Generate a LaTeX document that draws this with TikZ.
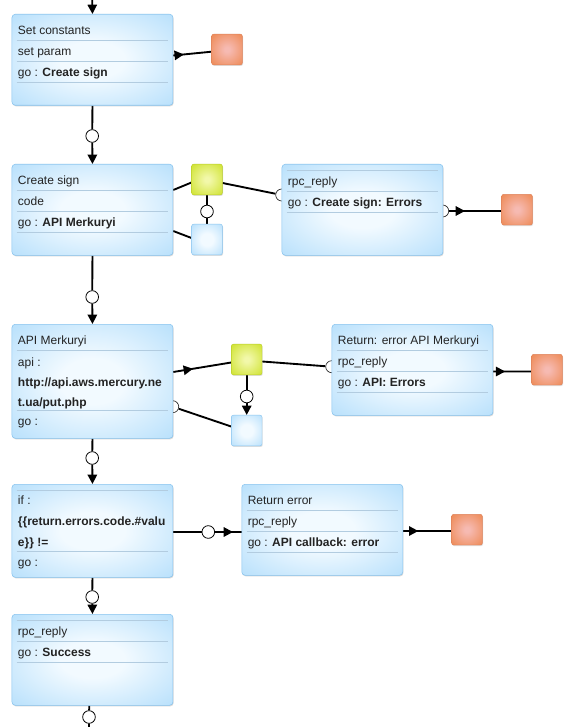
\documentclass[tikz,border=0pt]{standalone}
\usepackage{fontspec}
\setmainfont{Liberation Sans}
\usetikzlibrary{arrows.meta,shadows,decorations.markings,calc}

\definecolor{boxblue}{RGB}{152,210,250}
\definecolor{boxcenter}{RGB}{242,250,255}
\definecolor{boxedge}{RGB}{135,195,238}
\definecolor{sepc}{RGB}{178,204,224}
\definecolor{orOut}{RGB}{236,128,66}
\definecolor{orIn}{RGB}{246,186,178}
\definecolor{orEdge}{RGB}{222,130,90}
\definecolor{yeOut}{RGB}{200,222,22}
\definecolor{yeIn}{RGB}{242,248,170}
\definecolor{yeEdge}{RGB}{185,205,40}
\definecolor{txtc}{RGB}{35,35,35}

\pgfdeclareradialshading{boxsh}{\pgfpoint{0bp}{0bp}}{color(0bp)=(boxcenter); color(10bp)=(boxcenter); color(50bp)=(boxblue); color(72bp)=(boxblue)}
\pgfdeclareradialshading{orsh}{\pgfpoint{0bp}{0bp}}{color(0bp)=(orIn); color(4bp)=(orIn); color(42bp)=(orOut); color(72bp)=(orOut)}
\pgfdeclareradialshading{yesh}{\pgfpoint{0bp}{0bp}}{color(0bp)=(yeIn); color(4bp)=(yeIn); color(42bp)=(yeOut); color(72bp)=(yeOut)}

\pgfdeclarelayer{bg}
\pgfdeclarelayer{mid}
\pgfsetlayers{bg,mid,main}

\tikzset{
  box/.style={draw=boxedge, line width=0.4pt, rounded corners=2.5pt, shading=boxsh,
    drop shadow={shadow xshift=0.5pt, shadow yshift=-0.8pt, opacity=0.3},
    minimum width=120.75pt, inner sep=0pt, anchor=north west},
  sq/.style={minimum size=23pt, inner sep=0pt, rounded corners=1.5pt,
    drop shadow={shadow xshift=0.5pt, shadow yshift=-0.8pt, opacity=0.25}},
  orsq/.style={sq, shading=orsh, draw=orEdge, line width=0.3pt},
  yesq/.style={sq, shading=yesh, draw=yeEdge, line width=0.3pt},
  lbsq/.style={sq, shading=boxsh, draw=boxedge, line width=0.3pt},
  circ/.style={circle, draw=black, fill=white, line width=0.6pt, minimum size=9.5pt, inner sep=0pt},
  hcirc/.style={circle, draw=black!85, fill=white, line width=0.5pt, minimum size=9pt, inner sep=0pt},
  conn/.style={line width=1.4pt, black},
  tipd/.style={-{Triangle[length=7pt,width=7pt]}},
  mk/.style={postaction={decorate}, decoration={markings,
    mark=at position #1 with {\arrow{Triangle[length=7pt,width=7pt]}}}},
  sepl/.style={draw=sepc, line width=0.5pt},
  txt/.style={anchor=base west, inner sep=0pt, font=\fontsize{9}{11}\selectfont, text=txtc}
}

\begin{document}
\begin{tikzpicture}[x=0.75pt,y=-0.75pt]
\useasboundingbox (0,0) rectangle (574,727);

% ---------- boxes ----------
\node[box, minimum height=68.25pt] (b1) at (11.7,14) {};
\node[box, minimum height=68.25pt] (b2) at (11.7,164) {};
\node[box, minimum height=68.25pt] (b3) at (281.7,164) {};
\node[box, minimum height=85.5pt]  (b4) at (11.7,324) {};
\node[box, minimum height=68.25pt] (b5) at (331.7,324) {};
\node[box, minimum height=69.75pt] (b6) at (11.7,484) {};
\node[box, minimum height=68.25pt] (b7) at (241.5,484) {};
\node[box, minimum height=68.25pt] (b8) at (11.7,614) {};

% ---------- separators ----------
\foreach \b in {b1,b2,b5,b7}{
  \draw[sepl] ($(\b.north west)+(5,26.7)$) -- ++(151,0);
  \draw[sepl] ($(\b.north west)+(5,47.7)$) -- ++(151,0);
  \draw[sepl] ($(\b.north west)+(5,68.7)$) -- ++(151,0);
}
\foreach \b in {b3,b8}{
  \draw[sepl] ($(\b.north west)+(5,6.7)$) -- ++(151,0);
  \draw[sepl] ($(\b.north west)+(5,27.7)$) -- ++(151,0);
  \draw[sepl] ($(\b.north west)+(5,48.7)$) -- ++(151,0);
}
\draw[sepl] ($(b4.north west)+(5,26.7)$) -- ++(151,0);
\draw[sepl] ($(b4.north west)+(5,86.7)$) -- ++(151,0);
\draw[sepl] ($(b6.north west)+(5,6.7)$) -- ++(151,0);
\draw[sepl] ($(b6.north west)+(5,67)$) -- ++(151,0);

% ---------- texts ----------
\node[txt] (t1a) at ($(b1.north west)+(6,20.3)$) {Set constants};
\node[txt] (t1b) at ($(b1.north west)+(6,41.3)$) {set param};
\node[txt] (t1c) at ($(b1.north west)+(6,62.3)$) {go : \textbf{Create sign}};

\node[txt] (t2a) at ($(b2.north west)+(6,20.3)$) {Create sign};
\node[txt] (t2b) at ($(b2.north west)+(6,41.3)$) {code};
\node[txt] (t2c) at ($(b2.north west)+(6,62.3)$) {go : \textbf{API Merkuryi}};

\node[txt] (t3a) at ($(b3.north west)+(6,21.5)$) {rpc\_reply};
\node[txt] (t3b) at ($(b3.north west)+(6,42.5)$) {go : \textbf{Create sign: Errors}};

\node[txt] (t4a) at ($(b4.north west)+(6,20.3)$) {API Merkuryi};
\node[txt] (t4b) at ($(b4.north west)+(6,42.2)$) {api :};
\node[txt] (t4c) at ($(b4.north west)+(6,62.2)$) {\textbf{http://api.aws.mercury.ne}};
\node[txt] (t4d) at ($(b4.north west)+(6,82.2)$) {\textbf{t.ua/put.php}};
\node[txt] (t4e) at ($(b4.north west)+(6,101.8)$) {go :};

\node[txt] (t5a) at ($(b5.north west)+(6,20.3)$) {Return: error API Merkuryi};
\node[txt] (t5b) at ($(b5.north west)+(6,41.3)$) {rpc\_reply};
\node[txt] (t5c) at ($(b5.north west)+(6,62.3)$) {go : \textbf{API: Errors}};

\node[txt] (t6a) at ($(b6.north west)+(6,20.5)$) {if :};
\node[txt] (t6b) at ($(b6.north west)+(6,41.5)$) {\textbf{\{\{return.errors.code.\#valu}};
\node[txt] (t6c) at ($(b6.north west)+(6,62.5)$) {\textbf{e\}\} !=}};
\node[txt] (t6d) at ($(b6.north west)+(6,82.5)$) {go :};

\node[txt] (t7a) at ($(b7.north west)+(6,20.3)$) {Return error};
\node[txt] (t7b) at ($(b7.north west)+(6,41.3)$) {rpc\_reply};
\node[txt] (t7c) at ($(b7.north west)+(6,62.3)$) {go : \textbf{API callback: error}};

\node[txt] (t8a) at ($(b8.north west)+(6,21.5)$) {rpc\_reply};
\node[txt] (t8b) at ($(b8.north west)+(6,42.5)$) {go : \textbf{Success}};

% ---------- squares ----------
\node[orsq] (o1) at (227,49.5) {};
\node[orsq] (o2) at (517,209.7) {};
\node[orsq] (o3) at (547,369.7) {};
\node[orsq] (o4) at (467,529.7) {};
\node[yesq] (y1) at (207,179.5) {};
\node[lbsq] (l1) at (207,239.5) {};
\node[yesq] (y2) at (246.7,359.5) {};
\node[lbsq] (l2) at (246.7,430.5) {};

% ---------- circles ----------
\node[circ] (c1) at (92.2,136) {};
\node[circ] (c2) at (92.2,297) {};
\node[circ] (c3) at (92.2,458) {};
\node[circ] (c4) at (92.2,597) {};
\node[circ] (c5) at (89,717) {};
\node[circ] (cy1) at (207,211.5) {};
\node[circ] (cy2) at (246.7,396.5) {};
\node[circ] (c6) at (208.3,532) {};

% ---------- half circles ----------
\begin{pgfonlayer}{mid}
\node[hcirc] (h1) at (281.7,195) {};
\node[hcirc] (h2) at (442.7,211) {};
\node[hcirc] (h3) at (331.7,366.7) {};
\node[hcirc] (h4) at (172.7,406.7) {};
\end{pgfonlayer}

% ---------- connectors ----------
\begin{pgfonlayer}{bg}
\fill[white] (0,0) rectangle (574,727);
\coordinate (top) at (92.2,0);
\coordinate (bot) at (89,727);
\coordinate (b8out) at ($(b8.south)+(-3.2,0)$);

\draw[conn,tipd] (top) -- (b1.north);
\draw[conn] (b1.south) -- (c1);
\draw[conn,tipd] (c1) -- (b2.north);
\draw[conn] (b2.south) -- (c2);
\draw[conn,tipd] (c2) -- (b4.north);
\draw[conn] (b4.south) -- (c3);
\draw[conn,tipd] (c3) -- (b6.north);
\draw[conn] (b6.south) -- (c4);
\draw[conn,tipd] (c4) -- (b8.north);
\draw[conn] (b8out) -- (c5) -- (bot);

% Set constants -> orange
\draw[conn,mk=8pt] ($(b1.north east)+(0,41.5)$) -- ($(o1.west)+(0,2.2)$);

% Create sign side
\draw[conn] ($(b2.north east)+(0,26)$) -- ($(y1.west)+(0,3)$);
\draw[conn] ($(y1.east)+(0,3.5)$) -- (h1);
\draw[conn] (y1.south) -- (cy1) -- (l1.north);
\draw[conn] ($(b2.north east)+(0,67)$) -- ($(l1.west)+(0,-1.5)$);

% rpc_reply -> orange
\draw[conn,mk=12pt] (h2) -- ($(o2.west)+(0,1.3)$);

% API side
\draw[conn,mk=15pt] ($(b4.north east)+(0,48)$) -- ($(y2.west)+(0,3)$);
\draw[conn] ($(y2.east)+(0,2)$) -- (h3);
\draw[conn] (y2.south) -- (cy2);
\draw[conn,tipd] (cy2) -- (l2.north);
\draw[conn] (h4) -- ($(l2.west)+(0,-4)$);

% Return: error API -> orange
\draw[conn,mk=9pt] ($(b5.north east)+(0,47.5)$) -- ($(o3.west)+(0,1.8)$);

% if -> Return error
\draw[conn] ($(b6.north east)+(0,48)$) -- (c6);
\draw[conn,mk=13.5pt] (c6) -- ($(b7.north west)+(0,48)$);

% Return error -> orange
\draw[conn,mk=11.5pt] ($(b7.north east)+(0,47)$) -- ($(o4.west)+(0,1.3)$);
\end{pgfonlayer}
\end{tikzpicture}
\end{document}
